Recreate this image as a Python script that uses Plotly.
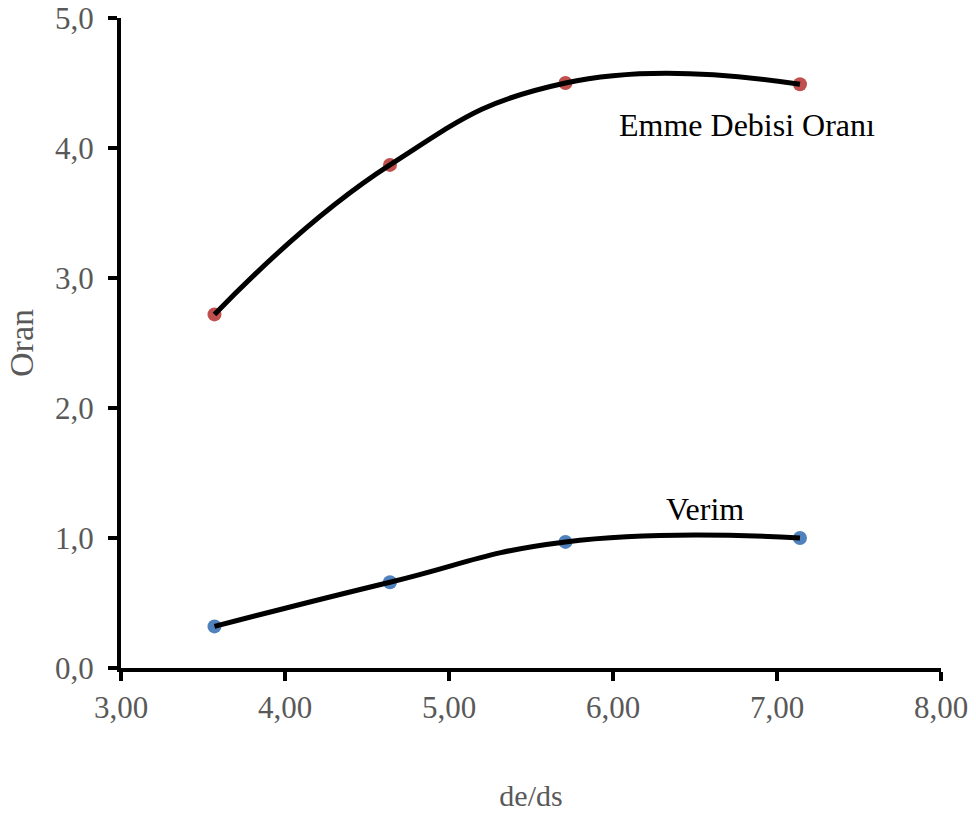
import plotly.graph_objects as go

# Data
de_ds = [3.57, 4.64, 5.71, 7.14]
emme_debisi = [2.72, 3.87, 4.50, 4.49]
verim = [0.32, 0.66, 0.97, 1.00]

x_ticks = [3, 4, 5, 6, 7, 8]
y_ticks = [0, 1, 2, 3, 4, 5]

red = '#C0504D'
blue = '#4F81BD'
grey = '#595959'
font = 'Liberation Serif, Times New Roman, serif'

fig = go.Figure()

# markers first, trend lines drawn on top
fig.add_trace(go.Scatter(x=de_ds, y=emme_debisi, mode='markers',
                         marker=dict(color=red, size=14), showlegend=False))
fig.add_trace(go.Scatter(x=de_ds, y=verim, mode='markers',
                         marker=dict(color=blue, size=14), showlegend=False))
fig.add_trace(go.Scatter(x=de_ds, y=emme_debisi, mode='lines',
                         line=dict(color='black', width=5, shape='spline', smoothing=1.3),
                         showlegend=False))
fig.add_trace(go.Scatter(x=de_ds, y=verim, mode='lines',
                         line=dict(color='black', width=5, shape='spline', smoothing=1.3),
                         showlegend=False))

fig.add_annotation(x=6.82, y=4.18, text='Emme Debisi Oranı', showarrow=False,
                   font=dict(family=font, size=32, color='black'))
fig.add_annotation(x=6.56, y=1.22, text='Verim', showarrow=False,
                   font=dict(family=font, size=32, color='black'))

axis_common = dict(showgrid=False, zeroline=False, showline=True, linecolor='black',
                   linewidth=4, ticks='outside', ticklen=9, tickwidth=4, tickcolor='black',
                   automargin=False, ticklabeloverflow='allow',
                   tickfont=dict(family=font, size=31, color=grey))

fig.update_xaxes(range=[3, 8], tickvals=x_ticks, tickformat='.2f',
                 title=dict(text='de/ds', standoff=62,
                            font=dict(family=font, size=30, color=grey)),
                 **axis_common)
fig.update_yaxes(range=[0, 5], tickvals=y_ticks, tickformat='.1f',
                 ticklabelstandoff=8,
                 title=dict(text='Oran', standoff=12,
                            font=dict(family=font, size=34, color=grey)),
                 **axis_common)

fig.update_layout(width=976, height=814, separators=',.',
                  plot_bgcolor='white', paper_bgcolor='white',
                  margin=dict(l=121, r=35, t=18, b=146))

# drop the default 8px body margin so the figure fills the window exactly
fig.write_html('out.html', config={'displayModeBar': False},
               post_script="document.body.style.margin='0';")
